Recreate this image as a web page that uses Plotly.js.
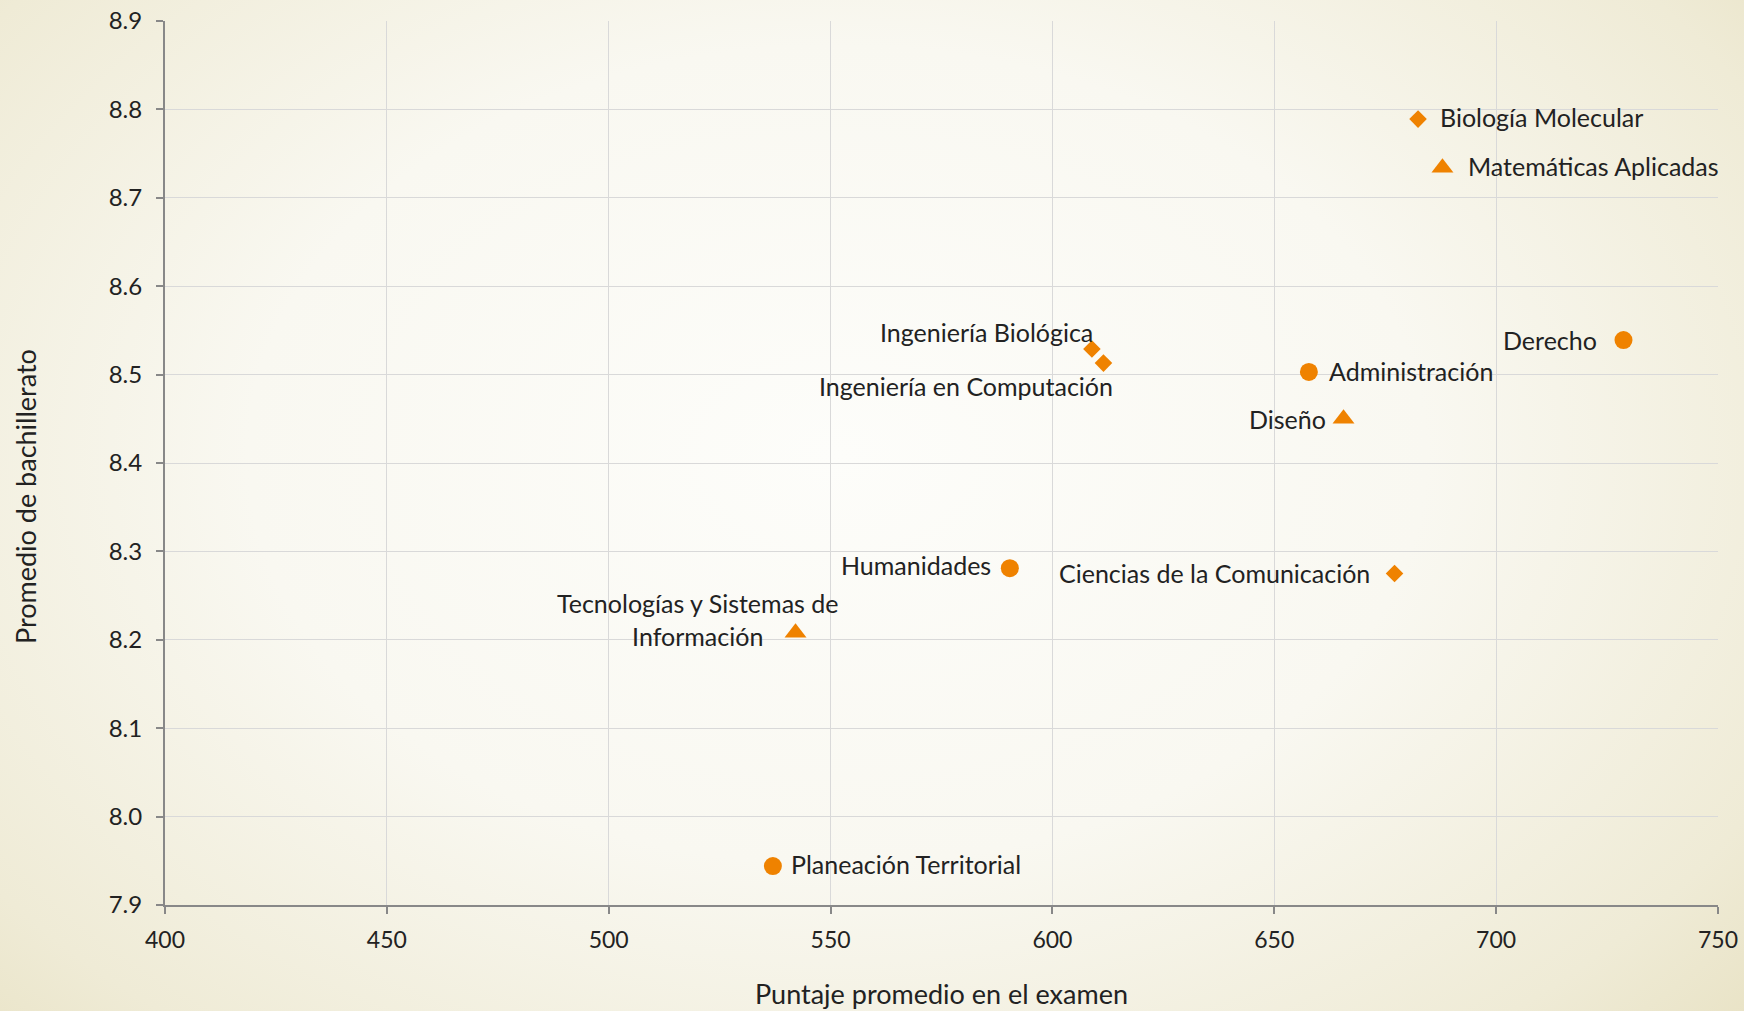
<!DOCTYPE html>
<html>
<head>
<meta charset="utf-8">
<script src="https://cdn.plot.ly/plotly-3.0.1.min.js"></script>
<style>
  html, body { margin: 0; padding: 0; }
  body {
    width: 1744px; height: 1011px; overflow: hidden;
    background: radial-gradient(ellipse 75% 90% at 48% 45%, #fdfdfa 0%, #f9f8f1 45%, #efebd6 80%, #e6dfbe 100%);
  }
  #chart { width: 1744px; height: 1011px; }
</style>
</head>
<body>
<div id="chart"></div>
<script>
// ---- data ----
const carreras = [
  "Biología Molecular",
  "Matemáticas Aplicadas",
  "Ingeniería Biológica",
  "Ingeniería en Computación",
  "Derecho",
  "Administración",
  "Diseño",
  "Humanidades",
  "Ciencias de la Comunicación",
  "Tecnologías y Sistemas de<br>Información",
  "Planeación Territorial"
];
const puntaje = [682.4, 687.9, 608.9, 611.5, 728.7, 657.8, 665.6, 590.4, 677.1, 542.1, 537.0];
const promedio = [8.789, 8.734, 8.529, 8.513, 8.539, 8.503, 8.450, 8.281, 8.275, 8.208, 7.944];
const grupo = ["diamond", "triangle", "diamond", "diamond", "circle", "circle", "triangle", "circle", "diamond", "triangle", "circle"];
const xTicks = [400, 450, 500, 550, 600, 650, 700, 750];
const yTicks = [7.9, 8.0, 8.1, 8.2, 8.3, 8.4, 8.5, 8.6, 8.7, 8.8, 8.9];
const xTitle = "Puntaje promedio en el examen";
const yTitle = "Promedio de bachillerato";

// ---- styles ----
const ORANGE = "#ef8200";
const FONT = "Lato, 'Open Sans', sans-serif";
const TEXT = "#222222";
const symbolStyle = {
  circle:   { symbol: "circle", size: 18 },
  diamond:  { symbol: "diamond", size: 13.5 },
  triangle: { symbol: "triangle-up", size: 19 }
};
// label placement relative to each point: [xanchor, xshift, yshift]
const labelPlacement = [
  ["left", 20, 2],
  ["left", 24, 2],
  ["right", 3, 17],
  ["right", 12, -23],
  ["right", -24, 0],
  ["left", 18, 1],
  ["right", -16, 0],
  ["right", -17, 3],
  ["right", -23, 1],
  ["right", 44, 13],
  ["left", 16, 2]
];

const traces = ["circle", "diamond", "triangle"].map(g => {
  const idx = grupo.map((v, i) => v === g ? i : -1).filter(i => i >= 0);
  return {
    type: "scatter",
    mode: "markers",
    x: idx.map(i => puntaje[i]),
    y: idx.map(i => promedio[i]),
    text: idx.map(i => carreras[i]),
    hoverinfo: "text",
    marker: { color: ORANGE, symbol: symbolStyle[g].symbol, size: symbolStyle[g].size, line: { width: 0 } },
    showlegend: false
  };
});

const annotations = carreras.map((c, i) => ({
  x: puntaje[i], y: promedio[i], xref: "x", yref: "y",
  text: c, showarrow: false,
  xanchor: labelPlacement[i][0], yanchor: "middle",
  xshift: labelPlacement[i][1], yshift: labelPlacement[i][2],
  align: "center",
  font: { family: FONT, size: 25, color: TEXT }
}));

// y-axis title (placed like the original: slightly below the plot's middle)
annotations.push({
  xref: "paper", yref: "paper", x: 0, y: 0.5, xanchor: "center", yanchor: "middle",
  xshift: -140, yshift: -34, textangle: -90,
  text: yTitle, showarrow: false,
  font: { family: FONT, size: 27, color: TEXT }
});

const axisCommon = {
  showline: true, linecolor: "#888888", linewidth: 2,
  ticks: "outside", ticklen: 7, tickwidth: 2, tickcolor: "#888888",
  showgrid: true, gridcolor: "#d9d9d9", gridwidth: 1,
  zeroline: false
};

const layout = {
  width: 1744, height: 1011,
  margin: { l: 165, r: 26, t: 21, b: 106 },
  paper_bgcolor: "rgba(0,0,0,0)",
  plot_bgcolor: "rgba(0,0,0,0)",
  xaxis: Object.assign({}, axisCommon, {
    range: [400, 750], tickvals: xTicks, ticktext: xTicks.map(String),
    tickfont: { family: FONT, size: 23, color: TEXT },
    ticklabelstandoff: 6,
    title: { text: xTitle, font: { family: FONT, size: 27, color: TEXT }, standoff: 34 }
  }),
  yaxis: Object.assign({}, axisCommon, {
    range: [7.9, 8.9], tickvals: yTicks, ticktext: yTicks.map(v => v.toFixed(1)),
    tickfont: { family: FONT, size: 24, color: TEXT },
    ticklabelstandoff: 9
  }),
  annotations: annotations
};

Plotly.newPlot("chart", traces, layout, { displayModeBar: false, staticPlot: true });
</script>
</body>
</html>
